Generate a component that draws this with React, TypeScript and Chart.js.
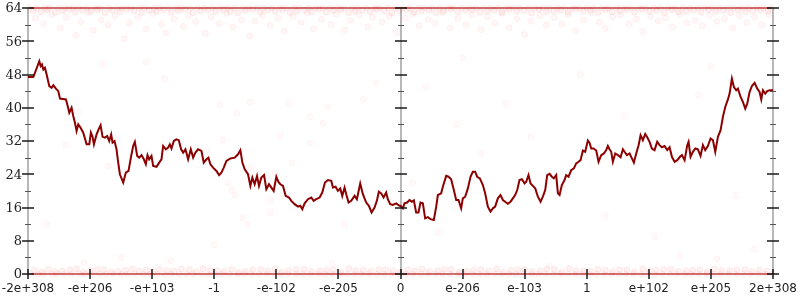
import { useEffect, useRef } from "react";
import { Chart, registerables } from "chart.js";
Chart.register(...registerables);

const xTickLabels = ["-2e+308", "-e+206", "-e+103", "-1", "-e-102", "-e-205", "0", "e-206", "e-103", "1", "e+102", "e+205", "2e+308"];
const yTickValues = [0, 8, 16, 24, 32, 40, 48, 56, 64];
const yMinorValues = [4, 12, 20, 28, 36, 44, 52, 60];

const lineX = [
  0, 0.086, 0.182, 0.204, 0.225, 0.247, 0.273, 0.3, 0.343, 0.381, 0.408, 0.45, 0.488, 0.515, 0.611, 0.633, 0.665, 0.702, 0.729, 0.756,
  0.783, 0.81, 0.847, 0.89, 0.944, 0.987, 1.013, 1.04, 1.062, 1.105, 1.137, 1.169, 1.201, 1.239, 1.276, 1.308, 1.34, 1.362, 1.394, 1.426,
  1.453, 1.48, 1.534, 1.576, 1.619, 1.657, 1.694, 1.721, 1.759, 1.791, 1.828, 1.866, 1.898, 1.925, 1.952, 1.989, 2.016, 2.07, 2.113, 2.15,
  2.177, 2.22, 2.257, 2.284, 2.311, 2.349, 2.391, 2.429, 2.466, 2.499, 2.536, 2.579, 2.622, 2.66, 2.697, 2.74, 2.794, 2.831, 2.874, 2.906,
  2.938, 2.981, 3.035, 3.078, 3.115, 3.153, 3.196, 3.26, 3.33, 3.383, 3.421, 3.453, 3.491, 3.544, 3.582, 3.614, 3.651, 3.689, 3.721, 3.759,
  3.802, 3.839, 3.882, 3.92, 3.957, 4.0, 4.032, 4.064, 4.107, 4.15, 4.204, 4.241, 4.295, 4.349, 4.386, 4.418, 4.456, 4.509, 4.563, 4.601,
  4.643, 4.697, 4.74, 4.783, 4.831, 4.885, 4.912, 4.954, 4.992, 5.029, 5.062, 5.099, 5.126, 5.164, 5.206, 5.26, 5.298, 5.351, 5.394, 5.448,
  5.491, 5.534, 5.582, 5.619, 5.651, 5.689, 5.727, 5.769, 5.796, 5.834, 5.877, 5.93, 5.984,
  6.0, 6.038, 6.064, 6.107, 6.145, 6.183, 6.215, 6.252, 6.29, 6.322, 6.36, 6.397, 6.44, 6.483, 6.537, 6.575, 6.602, 6.655, 6.682, 6.736,
  6.773, 6.816, 6.859, 6.897, 6.934, 6.977, 7.004, 7.042, 7.085, 7.128, 7.165, 7.203, 7.235, 7.278, 7.327, 7.364, 7.407, 7.45, 7.488, 7.525,
  7.568, 7.611, 7.649, 7.686, 7.729, 7.772, 7.81, 7.847, 7.88, 7.917, 7.955, 7.998, 8.025, 8.062, 8.095, 8.132, 8.17, 8.213, 8.256, 8.293,
  8.331, 8.363, 8.401, 8.438, 8.47, 8.508, 8.535, 8.562, 8.599, 8.642, 8.669, 8.707, 8.75, 8.793, 8.83, 8.868, 8.9, 8.938, 8.975, 9.018,
  9.045, 9.072, 9.11, 9.153, 9.19, 9.233, 9.276, 9.314, 9.34, 9.367, 9.394, 9.421, 9.459, 9.502, 9.545, 9.582, 9.609, 9.647, 9.69, 9.727,
  9.759, 9.797, 9.835, 9.867, 9.904, 9.942, 9.974, 10.012, 10.049, 10.092, 10.135, 10.173, 10.21, 10.253, 10.296, 10.334, 10.372, 10.415, 10.458, 10.501,
  10.533, 10.576, 10.619, 10.64, 10.672, 10.71, 10.748, 10.79, 10.833, 10.871, 10.908, 10.951, 10.994, 11.032, 11.07, 11.113, 11.156, 11.193, 11.231, 11.274,
  11.301, 11.338, 11.37, 11.408, 11.435, 11.478, 11.515, 11.553, 11.585, 11.623, 11.66, 11.704, 11.747, 11.784, 11.811, 11.838, 11.875, 11.908, 11.945, 12.0,
];
const lineY = [
  47.4, 47.4, 51.2, 50.0, 50.4, 49.2, 49.6, 48.0, 45.2, 44.8, 45.4, 44.6, 44.0, 42.2, 42.0, 40.8, 38.8, 40.0, 38.0, 36.4,
  34.4, 36.0, 35.2, 34.0, 31.2, 31.2, 34.0, 33.0, 31.2, 33.6, 34.8, 35.8, 33.0, 32.8, 33.2, 32.0, 33.6, 31.6, 32.0, 30.0,
  26.8, 24.0, 22.0, 24.4, 24.8, 28.0, 30.8, 31.8, 28.4, 28.0, 28.6, 27.6, 26.4, 28.6, 27.6, 28.4, 26.0, 25.8, 26.8, 27.6,
  30.8, 30.0, 30.4, 31.2, 30.2, 32.0, 32.4, 32.2, 30.0, 29.2, 30.0, 27.6, 30.0, 28.0, 29.2, 30.0, 29.6, 26.8, 27.6, 28.0,
  26.4, 25.6, 24.8, 23.8, 24.4, 25.6, 27.2, 27.8, 28.0, 28.8, 29.8, 26.8, 25.2, 24.0, 21.2, 23.2, 21.6, 23.6, 21.2, 23.2,
  23.8, 20.4, 21.6, 20.8, 20.0, 23.4, 22.2, 21.6, 21.2, 18.8, 18.4, 17.6, 16.8, 16.2, 16.4, 15.6, 17.0, 18.0, 18.4, 17.6,
  18.0, 18.4, 19.6, 22.0, 22.6, 22.4, 20.8, 21.0, 20.0, 20.6, 18.8, 20.8, 19.2, 17.2, 17.6, 18.8, 18.0, 21.8, 19.2, 17.2,
  16.4, 14.8, 16.0, 17.6, 19.8, 19.4, 18.4, 19.6, 18.0, 16.8, 16.6, 17.0, 16.4,
  16.4, 15.8, 17.0, 17.2, 17.8, 17.4, 17.7, 14.8, 14.8, 17.2, 17.0, 13.4, 13.7, 13.2, 13.0, 16.2, 19.0, 19.4, 21.0, 23.6,
  23.4, 22.8, 20.2, 17.8, 17.8, 15.8, 18.2, 18.6, 20.6, 23.4, 24.6, 24.6, 23.4, 23.0, 21.4, 19.4, 16.2, 15.0, 15.8, 16.2,
  18.2, 19.0, 17.8, 17.4, 16.9, 17.4, 18.2, 19.0, 20.2, 22.6, 22.8, 21.8, 22.2, 23.8, 21.8, 21.2, 20.6, 18.6, 17.4, 18.6,
  20.2, 23.8, 24.1, 23.4, 23.0, 23.8, 19.4, 19.0, 21.4, 22.6, 23.8, 23.4, 25.0, 25.4, 26.6, 27.0, 27.4, 29.7, 29.4, 32.1,
  31.6, 30.2, 30.2, 29.7, 27.0, 28.6, 29.0, 29.8, 30.8, 30.0, 29.4, 27.0, 29.0, 28.6, 28.1, 30.0, 29.4, 28.6, 29.0, 27.8,
  26.8, 29.0, 31.0, 33.4, 32.2, 33.7, 32.9, 31.8, 30.2, 29.8, 31.8, 31.0, 30.5, 30.8, 29.8, 30.5, 28.2, 27.0, 27.4, 28.2,
  28.6, 27.4, 31.0, 31.8, 28.2, 29.4, 30.2, 30.0, 28.4, 31.0, 29.8, 30.8, 32.6, 32.2, 29.4, 33.0, 34.6, 37.8, 40.2, 42.0,
  43.4, 47.0, 45.0, 44.2, 44.6, 42.6, 41.4, 39.8, 41.0, 43.8, 45.2, 46.0, 44.6, 43.8, 42.0, 44.2, 43.4, 44.0, 44.2, 44.2,
];

const topRowX = [
  0.02, 0.14, 0.27, 0.35, 0.49, 0.6, 0.72, 0.81, 0.95, 1.08, 1.17, 1.3, 1.44, 1.52, 1.66, 1.79, 1.88, 2.03, 2.12, 2.26,
  2.38, 2.47, 2.61, 2.73, 2.84, 2.97, 3.1, 3.21, 3.33, 3.46, 3.55, 3.69, 3.8, 3.93, 4.05, 4.16, 4.28, 4.37, 4.52, 4.63,
  4.75, 4.86, 4.98, 5.09, 5.22, 5.31, 5.45, 5.58, 5.67, 5.8, 5.92, 6.04, 6.15, 6.29, 6.38, 6.51, 6.63, 6.76, 6.85, 6.99,
  7.1, 7.22, 7.34, 7.45, 7.57, 7.7, 7.81, 7.92, 8.06, 8.17, 8.29, 8.4, 8.53, 8.64, 8.77, 8.88, 9.0, 9.11, 9.24, 9.35,
  9.49, 9.6, 9.71, 9.84, 9.95, 10.08, 10.19, 10.31, 10.42, 10.55, 10.66, 10.79, 10.9, 11.02, 11.13, 11.26, 11.37, 11.5, 11.61, 11.74,
  11.85, 11.97,
];
const topRowY = 64;

const topBandX = [
  0.08, 0.21, 0.31, 0.44, 0.56, 0.66, 0.76, 0.88, 1.01, 1.12, 1.24, 1.36, 1.48, 1.59, 1.71, 1.83, 1.95, 2.07, 2.18, 2.31,
  2.42, 2.53, 2.66, 2.78, 2.9, 3.02, 3.15, 3.26, 3.38, 3.5, 3.62, 3.74, 3.86, 3.98, 4.1, 4.22, 4.33, 4.46, 4.57, 4.69,
  4.8, 4.92, 5.04, 5.16, 5.27, 5.39, 5.51, 5.62, 5.74, 5.86, 5.98, 6.1, 6.22, 6.34, 6.46, 6.57, 6.69, 6.81, 6.93, 7.05,
  7.16, 7.28, 7.4, 7.51, 7.63, 7.75, 7.87, 7.99, 8.11, 8.23, 8.35, 8.47, 8.58, 8.7, 8.82, 8.94, 9.06, 9.18, 9.3, 9.41,
  9.53, 9.65, 9.77, 9.89, 10.01, 10.13, 10.25, 10.37, 10.48, 10.6, 10.72, 10.84, 10.96, 11.08, 11.2, 11.32, 11.44, 11.56, 11.68, 11.8,
  11.92,
];
const topBandY = [
  63.4, 63.1, 63.6, 62.9, 63.3, 63.7, 63.0, 63.5, 63.2, 63.6, 62.8, 63.4, 63.1, 63.7, 63.3, 62.9, 63.5, 63.2, 63.6, 63.0,
  63.4, 63.7, 62.9, 63.3, 63.5, 63.1, 63.6, 63.2, 62.8, 63.4, 63.7, 63.0, 63.5, 63.2, 63.6, 62.9, 63.3, 63.5, 63.1, 63.7,
  63.0, 63.4, 63.6, 62.9, 63.2, 63.5, 63.1, 63.7, 63.3, 62.8, 63.4, 63.6, 63.0, 63.3, 63.5, 62.9, 63.2, 63.7, 63.1, 63.4,
  63.6, 62.9, 63.3, 63.5, 63.0, 63.7, 63.2, 63.4, 62.8, 63.6, 63.1, 63.3, 63.5, 63.0, 63.7, 63.2, 63.4, 62.9, 63.6, 63.1,
  63.3, 63.5, 63.0, 63.7, 63.2, 63.4, 62.9, 63.6, 63.1, 63.3, 63.5, 63.0, 63.7, 63.2, 63.4, 62.9, 63.6, 63.1, 63.3, 63.5,
  63.2,
];

const topScatX = [
  0.12, 0.25, 0.38, 0.52, 0.61, 0.77, 0.85, 0.97, 1.05, 1.18, 1.29, 1.4, 1.55, 1.63, 1.77, 1.9, 2.01, 2.15, 2.22, 2.35,
  2.5, 2.58, 2.7, 2.86, 2.95, 3.08, 3.2, 3.3, 3.44, 3.57, 3.66, 3.78, 3.9, 4.03, 4.13, 4.27, 4.4, 4.5, 4.6, 4.73,
  4.88, 4.96, 5.1, 5.2, 5.33, 5.47, 5.55, 5.7, 5.82, 5.95, 6.08, 6.2, 6.3, 6.45, 6.55, 6.68, 6.8, 6.92, 7.05, 7.15,
  7.3, 7.4, 7.52, 7.64, 7.75, 7.88, 8.0, 8.1, 8.25, 8.35, 8.48, 8.6, 8.7, 8.82, 8.95, 9.07, 9.2, 9.3, 9.42, 9.55,
  9.68, 9.8, 9.9, 10.03, 10.15, 10.27, 10.38, 10.5, 10.62, 10.75, 10.86, 10.98, 11.1, 11.22, 11.35, 11.46, 11.58, 11.7, 11.82, 11.93,
];
const topScatY = [
  61.5, 60.2, 62.4, 59.1, 61.8, 57.4, 60.7, 62.9, 58.6, 61.2, 59.9, 62.1, 56.6, 60.4, 61.7, 58.9, 62.6, 60.1, 58.0, 61.4,
  59.6, 62.2, 60.8, 57.9, 61.9, 60.3, 62.7, 59.4, 61.1, 57.2, 60.9, 62.3, 59.8, 61.6, 58.4, 62.0, 60.5, 62.8, 59.0, 61.3,
  60.0, 62.5, 58.7, 61.0, 62.4, 59.5, 61.8, 60.6, 62.1, 58.2, 61.6, 62.6, 59.7, 61.2, 60.3, 62.9, 59.2, 61.5, 60.0, 62.3,
  58.8, 61.9, 60.4, 62.7, 59.3, 61.4, 57.6, 60.8, 62.2, 59.9, 61.7, 60.1, 62.5, 58.5, 61.1, 62.8, 60.6, 59.1, 61.9, 62.4,
  60.2, 61.3, 58.3, 62.0, 60.9, 61.6, 59.4, 62.6, 60.4, 61.0, 59.7, 62.3, 60.8, 61.5, 59.2, 62.1, 60.5, 61.8, 60.0, 62.4,
];

const bottomRowX = [
  0.04, 0.16, 0.25, 0.39, 0.47, 0.58, 0.7, 0.83, 0.92, 1.03, 1.15, 1.26, 1.37, 1.5, 1.61, 1.72, 1.86, 1.97, 2.08, 2.2,
  2.31, 2.44, 2.55, 2.66, 2.79, 2.9, 3.02, 3.13, 3.25, 3.38, 3.49, 3.6, 3.72, 3.85, 3.96, 4.07, 4.19, 4.32, 4.43, 4.55,
  4.68, 4.79, 4.9, 5.03, 5.14, 5.26, 5.37, 5.49, 5.62, 5.73, 5.85, 5.96, 6.09, 6.2, 6.33, 6.44, 6.57, 6.68, 6.8, 6.93,
  7.04, 7.16, 7.27, 7.39, 7.52, 7.63, 7.75, 7.86, 7.98, 8.11, 8.22, 8.34, 8.46, 8.57, 8.7, 8.81, 8.93, 9.05, 9.16, 9.28,
  9.4, 9.52, 9.63, 9.75, 9.87, 9.98, 10.1, 10.22, 10.34, 10.45, 10.58, 10.69, 10.81, 10.93, 11.05, 11.16, 11.28, 11.41, 11.52, 11.64,
  11.76, 11.88, 11.99,
];
const bottomRowY = 0;

const bottomBandX = [
  0.1, 0.22, 0.33, 0.44, 0.55, 0.67, 0.78, 0.89, 1.0, 1.11, 1.22, 1.34, 1.45, 1.57, 1.68, 1.79, 1.9, 2.01, 2.12, 2.24,
  2.35, 2.47, 2.6, 2.71, 2.82, 2.94, 3.05, 3.16, 3.28, 3.39, 3.5, 3.62, 3.75, 3.86, 3.98, 4.09, 4.2, 4.32, 4.45, 4.57,
  4.7, 4.81, 4.92, 5.04, 5.17, 5.28, 5.4, 5.52, 5.65, 5.76, 5.88, 6.0, 6.12, 6.24, 6.35, 6.47, 6.6, 6.71, 6.82, 6.95,
  7.07, 7.18, 7.3, 7.42, 7.55, 7.66, 7.78, 7.89, 8.0, 8.12, 8.25, 8.36, 8.48, 8.6, 8.72, 8.83, 8.95, 9.06, 9.18, 9.3,
  9.42, 9.53, 9.65, 9.77, 9.9, 10.01, 10.12, 10.24, 10.36, 10.48, 10.6, 10.71, 10.82, 10.94, 11.05, 11.17, 11.3, 11.42, 11.55, 11.66,
  11.78, 11.9,
];
const bottomBandY = [
  0.9, 0.5, 1.1, 0.6, 0.7, 1.0, 1.2, 0.4, 0.8, 1.1, 1.0, 0.5, 0.6, 0.9, 1.2, 0.7, 0.9, 0.4, 1.1, 0.8,
  0.7, 1.2, 1.0, 0.5, 1.3, 0.9, 0.8, 0.6, 1.1, 0.4, 0.6, 1.0, 1.0, 0.7, 1.2, 0.5, 0.8, 1.1, 1.1, 0.6,
  0.7, 0.9, 1.0, 0.4, 1.3, 0.8, 0.9, 0.6, 1.1, 1.0, 0.7, 0.5, 1.0, 0.8, 1.2, 0.6, 0.8, 1.1, 1.1, 0.4,
  0.6, 0.9, 1.0, 0.7, 1.2, 0.5, 0.9, 1.0, 1.1, 0.6, 0.7, 1.2, 1.0, 0.4, 1.3, 0.8, 0.8, 0.6, 1.1, 0.9,
  0.6, 1.0, 1.0, 0.5, 1.2, 0.7, 0.9, 1.1, 1.1, 0.6, 0.7, 0.9, 1.0, 0.5, 1.2, 0.8, 0.8, 1.0, 1.1, 0.6,
  0.9, 0.7,
];

const midScatX = [
  3.09, 3.36, 3.58, 4.06, 4.19, 4.54, 4.75, 4.82, 4.25, 3.98, 3.58, 3.22, 3.28, 3.33, 3.9, 3.46, 3.54, 3.9, 2.88, 3.14,
  4.54, 0.3, 1.2, 1.9, 2.2, 0.8, 1.3, 5.4, 5.6, 4.5, 3.0, 1.5, 5.1, 6.2, 6.6, 6.9, 7.3, 7.7, 8.1, 8.6,
  8.9, 9.3, 9.6, 10.1, 10.5, 11.0, 11.4, 11.7, 7.0, 2.3, 4.9, 8.4, 10.5, 11.1, 0.9, 6.4, 10.8, 0.6,
];
const midScatY = [
  40.7, 38.7, 41.4, 33.4, 41.1, 37.8, 36.3, 40.2, 26.7, 24.3, 25.7, 21.9, 20.2, 19.0, 17.8, 13.5, 12.0, 14.7, 29.8, 32.2,
  31.5, 12.0, 50.5, 51.0, 47.0, 39.0, 26.0, 42.0, 46.0, 17.0, 7.0, 4.0, 12.0, 22.0, 10.0, 36.0, 29.0, 41.0, 33.0, 21.0,
  48.0, 14.0, 38.0, 9.0, 27.0, 50.0, 19.0, 6.0, 52.0, 3.2, 2.4, 2.0, 4.4, 3.6, 2.7, 45.0, 43.0, 31.0,
];

const pts = (xs: number[], ys: number[] | number) =>
  xs.map((x, i) => ({ x, y: Array.isArray(ys) ? ys[i] : ys }));

const axesPlugin = {
  id: "customAxes",
  beforeDatasetsDraw(chart: any) {
    const { ctx, chartArea: a, scales } = chart;
    const xs = scales.x;
    ctx.save();
    ctx.strokeStyle = "#b8b8b8";
    ctx.lineWidth = 2;
    ctx.beginPath();
    for (const v of [0, 6, 12]) {
      const px = Math.round(xs.getPixelForValue(v));
      ctx.moveTo(px, a.top);
      ctx.lineTo(px, a.bottom);
    }
    ctx.moveTo(a.left, Math.round(a.top));
    ctx.lineTo(a.right, Math.round(a.top));
    ctx.moveTo(a.left, Math.round(a.bottom));
    ctx.lineTo(a.right, Math.round(a.bottom));
    ctx.stroke();
    ctx.restore();
  },
  afterDatasetsDraw(chart: any) {
    const { ctx, scales } = chart;
    const xs = scales.x;
    const ys = scales.y;
    ctx.save();
    const axisX = [0, 6, 12].map((v) => Math.round(xs.getPixelForValue(v)));
    ctx.strokeStyle = "#555";
    ctx.lineWidth = 1;
    ctx.beginPath();
    for (const v of yMinorValues) {
      const py = Math.round(ys.getPixelForValue(v)) + 0.5;
      for (const ax of axisX) {
        ctx.moveTo(ax - 3, py);
        ctx.lineTo(ax + 3, py);
      }
    }
    ctx.stroke();
    ctx.strokeStyle = "#1a1a1a";
    ctx.lineWidth = 1.5;
    ctx.beginPath();
    for (const v of yTickValues) {
      const py = Math.round(ys.getPixelForValue(v));
      for (const ax of axisX) {
        ctx.moveTo(ax - 6, py);
        ctx.lineTo(ax + 6, py);
      }
    }
    ctx.stroke();
    ctx.beginPath();
    const by = Math.round(ys.getPixelForValue(0));
    xTickLabels.forEach((_, i) => {
      const px = Math.round(xs.getPixelForValue(i));
      ctx.moveTo(px, by - 5);
      ctx.lineTo(px, by + 5);
    });
    ctx.stroke();
    ctx.fillStyle = "#222";
    ctx.font = "13px 'DejaVu Serif'";
    ctx.textAlign = "right";
    ctx.textBaseline = "middle";
    for (const v of yTickValues) {
      ctx.fillText(String(v), Math.round(xs.getPixelForValue(0)) - 6, ys.getPixelForValue(v) + 1);
    }
    ctx.font = "12px 'DejaVu Sans'";
    ctx.textAlign = "center";
    ctx.textBaseline = "top";
    xTickLabels.forEach((lab, i) => {
      ctx.fillText(lab, xs.getPixelForValue(i), by + 9);
    });
    ctx.restore();
  },
};

export default function App() {
  const ref = useRef<HTMLCanvasElement | null>(null);
  useEffect(() => {
    if (!ref.current) return;
    const dot = (alphaFill: number, alphaBorder: number, r = 3) => ({
      pointBackgroundColor: `rgba(255,0,0,${alphaFill})`,
      pointBorderColor: `rgba(255,0,0,${alphaBorder})`,
      pointBorderWidth: 1,
      pointRadius: r,
      clip: false as any,
    });
    const rowLine = {
      showLine: true,
      borderColor: "rgba(232,30,30,0.6)",
      borderWidth: 1.5,
    };
    const chart = new Chart(ref.current, {
      type: "scatter",
      data: {
        datasets: [
          {
            label: "line",
            data: pts(lineX, lineY),
            showLine: true,
            borderColor: "#8b0000",
            borderWidth: 2,
            pointRadius: 0,
            tension: 0,
            order: 0,
          } as any,
          { label: "top", data: pts(topRowX, topRowY), ...dot(0.05, 0.04), ...rowLine, order: 1 } as any,
          { label: "topBand", data: pts(topBandX, topBandY), ...dot(0.05, 0.07), order: 2 },
          { label: "topScatter", data: pts(topScatX, topScatY), ...dot(0.03, 0.05), order: 3 },
          { label: "bottom", data: pts(bottomRowX, bottomRowY), ...dot(0.05, 0.04), ...rowLine, order: 4 } as any,
          { label: "bottomBand", data: pts(bottomBandX, bottomBandY), ...dot(0.05, 0.07), order: 5 },
          { label: "mid", data: pts(midScatX, midScatY), ...dot(0.025, 0.04), order: 6 },
        ],
      },
      options: {
        animation: false,
        responsive: false,
        maintainAspectRatio: false,
        layout: { padding: { top: 8, right: 27, left: 0, bottom: 0 } },
        plugins: { legend: { display: false }, tooltip: { enabled: false } },
        scales: {
          x: {
            type: "linear",
            min: 0,
            max: 12,
            grid: { display: false },
            border: { display: false },
            ticks: { display: false },
            afterFit: (s: any) => {
              s.height = 26;
            },
          },
          y: {
            min: 0,
            max: 64,
            grid: { display: false },
            border: { display: false },
            ticks: { display: false },
            afterFit: (s: any) => {
              s.width = 28;
            },
          },
        },
      },
      plugins: [axesPlugin],
    });
    return () => chart.destroy();
  }, []);
  return (
    <div style={{ position: "fixed", left: 0, top: 0, width: 800, height: 300, background: "#fff" }}>
      <canvas ref={ref} width={800} height={300} style={{ width: 800, height: 300 }} />
    </div>
  );
}
